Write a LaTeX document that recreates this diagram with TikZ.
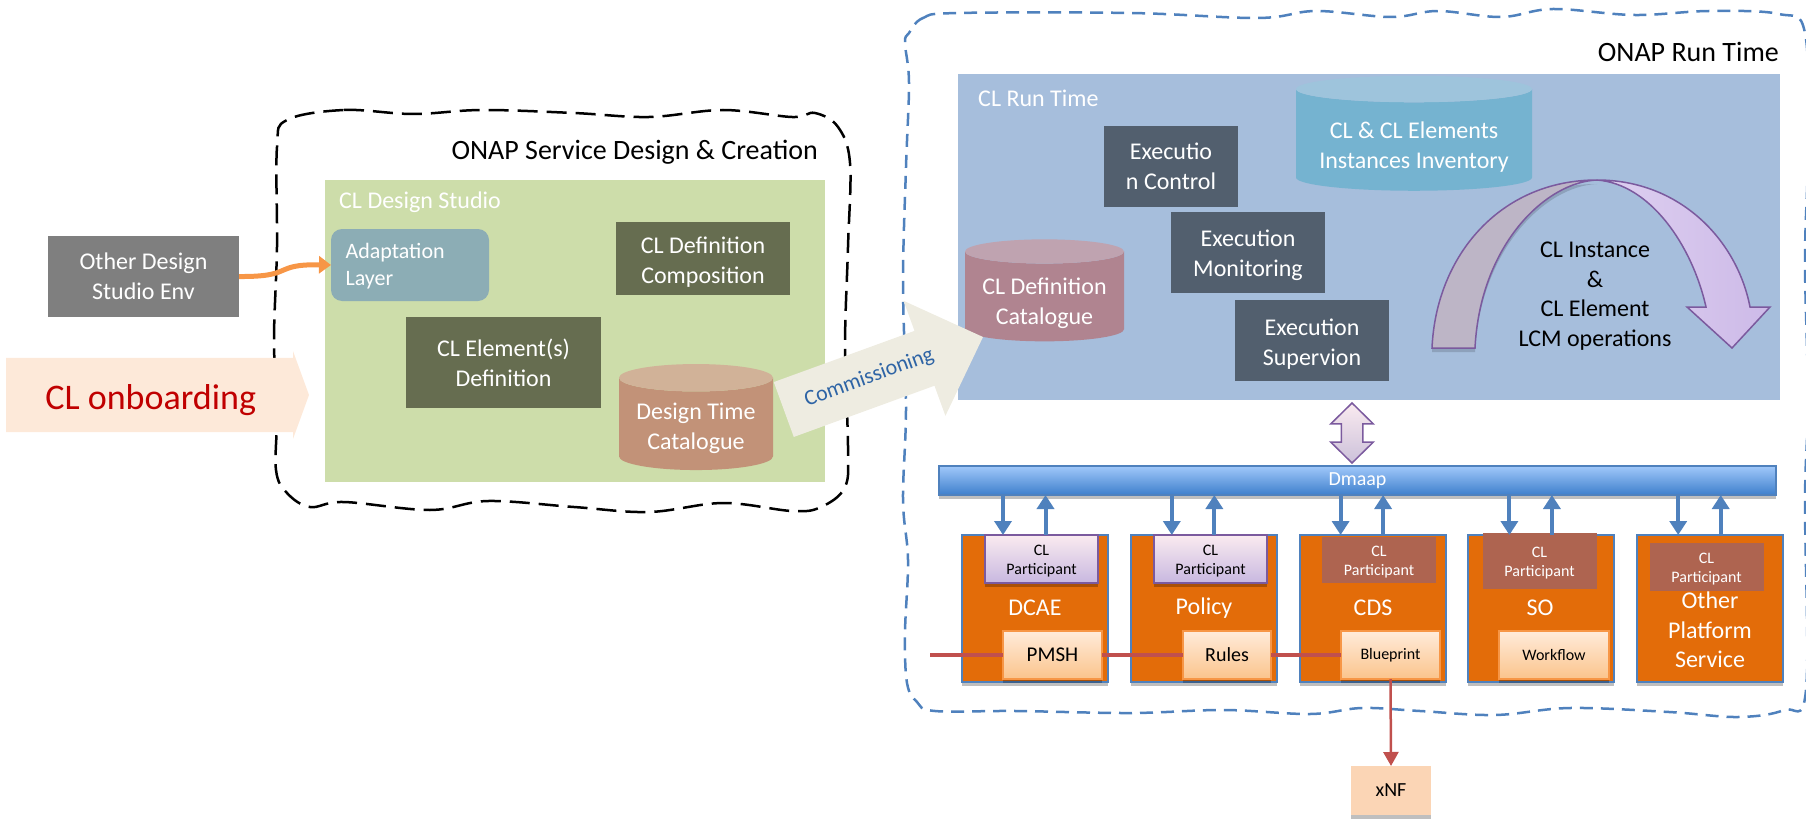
\documentclass[tikz,border=0pt]{standalone}
\usepackage{xcolor}
\usepackage{fontspec}
\setmainfont{Carlito}
\usepackage{tikz}
\usetikzlibrary{shapes.geometric, shapes.arrows, arrows.meta, positioning, shadows}

\definecolor{mossgreen}{HTML}{666D50}
\definecolor{slateblue}{HTML}{525F6E}
\definecolor{linkblue}{HTML}{4F81BD}
\definecolor{purpleedge}{HTML}{7B5A9E}
\definecolor{linkred}{HTML}{C0504D}

\begin{document}
\begin{tikzpicture}[
      x=1pt, y=-1pt,
      softshadow/.style={
        drop shadow={shadow xshift=0pt, shadow yshift=-4pt, opacity=0.25, fill=black}
      },
      panel/.style={
        rectangle,
        outer sep=0pt
      },
      panellabel/.style={
        anchor=west,
        text=white,
        inner sep=0pt,
        font=\fontsize{24}{30}\selectfont
      },
      zonelabel/.style={
        anchor=east,
        inner sep=0pt,
        font=\fontsize{28}{34}\selectfont
      },
      darkbox/.style={
        rectangle,
        align=center,
        text=white,
        outer sep=0pt,
        font=\fontsize{24}{30}\selectfont
      },
      tank/.style={
        cylinder,
        shape border rotate=90,
        cylinder uses custom fill,
        align=center,
        text=white,
        outer sep=0pt,
        inner sep=0pt,
        text height=60pt,
        font=\fontsize{24}{30}\selectfont
      },
      platform/.style={
        rectangle,
        fill={rgb,255:red,227;green,108;blue,9},
        draw=linkblue,
        line width=2pt,
        minimum width=146pt,
        minimum height=147pt,
        outer sep=0pt,
        softshadow
      },
      platformname/.style={
        align=center,
        text=white,
        inner sep=0pt,
        font=\fontsize{24}{29.5}\selectfont
      },
      liveparticipant/.style={
        rectangle,
        align=center,
        top color=purple!8!white,
        bottom color={rgb,255:red,200;green,184;blue,224},
        draw=purpleedge,
        line width=2.5pt,
        minimum width=113pt,
        minimum height=48pt,
        inner sep=0pt,
        text height=33pt,
        softshadow,
        font=\fontsize{16}{19}\selectfont
      },
      flatparticipant/.style={
        rectangle,
        align=center,
        text=white,
        fill={rgb,255:red,174;green,100;blue,80},
        minimum width=114pt,
        inner sep=0pt,
        text height=33pt,
        font=\fontsize{16}{19}\selectfont
      },
      plugin/.style={
        rectangle,
        top color={rgb,255:red,255;green,235;blue,218},
        bottom color={rgb,255:red,251;green,196;blue,140},
        draw={rgb,255:red,247;green,150;blue,70},
        line width=2pt,
        minimum height=48pt,
        outer sep=0pt,
        softshadow
      },
      buslink/.style={
        line width=4pt,
        draw=linkblue,
        -{Triangle[length=14pt,width=17pt]}
      },
      redlink/.style={
        line width=4pt,
        draw=linkred
      },
      node distance=22.8pt
    ]
    \useasboundingbox (0,0) rectangle (1806,821);

    % Zone outlines
    \draw [black, line width=2.5pt, dash pattern=on 20pt off 9pt] plot [smooth cycle, tension=0.6] coordinates {
      (287,120) (344,110) (413,114) (482,110) (574,113) (649,117) (723,110) (792,117) (815,113) (838,127)
      (850,163) (848,247) (845,347) (848,447) (845,487) (821,507) (792,511) (723,503) (649,512) (574,507)
      (488,501) (430,510) (344,502) (310,507) (287,493) (276,470) (277,413) (274,340) (277,247) (277,147)};
    \draw [linkblue, line width=2.5pt, dash pattern=on 13pt off 8pt] plot [smooth cycle, tension=0.6] coordinates {
      (909,33) (923,18) (958,13) (1131,13) (1258,18) (1316,11) (1391,17) (1438,11) (1501,17) (1553,9)
      (1634,15) (1709,11) (1779,14) (1805,33) (1808,150) (1805,260) (1808,400) (1805,500) (1806,690) (1784,710)
      (1738,717) (1669,712) (1570,708) (1495,715) (1420,711) (1362,708) (1310,714) (1224,710) (1131,713) (1016,711)
      (935,711) (917,702) (907,683) (905,633) (908,560) (903,500) (906,407) (903,283) (906,167) (909,83) (905,43)};
    \node (designZone) [zonelabel] at (818,152) {ONAP Service Design \& Creation};
    \node (runZone) [zonelabel] at (1779,52) {ONAP Run Time};

    % Design Nodes
    \node (designPanel) [panel, fill={rgb,255:red,205;green,221;blue,170}, minimum width=500pt, minimum height=302pt] at (575,331) {};
    \node (designLabel) [panellabel] at (339,202) {CL Design Studio};
    \node (otherStudio) [darkbox, fill={rgb,255:red,127;green,127;blue,127}, minimum width=191pt, minimum height=81pt] at (143.5,276.5) {Other Design \\ Studio Env};
    \node (adaptLayer) [darkbox, rounded corners=11pt, fill={rgb,255:red,140;green,173;blue,181}, minimum width=158pt, minimum height=72pt, text height=45pt, font=\fontsize{22}{27}\selectfont, align=left] at (410,265) {Adaptation~~~~~~ \\ Layer};
    \node (compositionBox) [darkbox, fill=mossgreen, minimum width=174pt, minimum height=73pt, text height=53pt] at (703,258.5) {CL Definition \\ Composition};
    \node (elementBox) [darkbox, fill=mossgreen, minimum width=195pt, minimum height=91pt] at (503.5,362.5) {CL Element(s) \\ Definition};
    \node (designTank) [tank, cylinder body fill={rgb,255:red,194;green,146;blue,120}, cylinder end fill={rgb,255:red,209;green,178;blue,152}, aspect=0.23, minimum width=154pt, minimum height=106pt, text height=55pt] at (696,424) {Design Time \\ Catalogue};

    % Run Time Nodes
    \node (runPanel) [panel, fill={rgb,255:red,166;green,190;blue,220}, minimum width=822pt, minimum height=326pt] at (1369,237) {};
    \node (runLabel) [panellabel] at (978,98) {CL Run Time};
    \node (inventoryTank) [tank, cylinder body fill={rgb,255:red,117;green,179;blue,208}, cylinder end fill={rgb,255:red,158;green,196;blue,220}, aspect=0.14, minimum width=236pt, minimum height=115pt] at (1414,140) {CL \& CL Elements \\ Instances Inventory};
    \node (controlBox) [darkbox, fill=slateblue, minimum width=134pt, minimum height=81pt] at (1171,166.5) {Executio \\ n Control};
    \node (monitorBox) [darkbox, fill=slateblue, minimum width=154pt, minimum height=81pt, text height=53pt] at (1248,252.5) {Execution \\ Monitoring};
    \node (superviseBox) [darkbox, fill=slateblue, minimum width=154pt, minimum height=81pt, text height=53pt] at (1312,340.5) {Execution \\ Supervion};
    \node (definitionTank) [tank, cylinder body fill={rgb,255:red,176;green,132;blue,144}, cylinder end fill={rgb,255:red,191;green,163;blue,176}, aspect=0.195, minimum width=159pt, minimum height=102pt] at (1044.5,296.5) {CL Definition \\ Catalogue};

    % LCM curved arrow
    \fill [black, opacity=0.15] (1432,352) .. controls (1436,260) and (1500,184) .. (1597,184) .. controls (1545,186) and (1480,250) .. (1475,352) -- cycle;
    \draw [purpleedge, line width=1.5pt, fill={rgb,255:red,189;green,181;blue,198}] (1432,348) .. controls (1436,256) and (1500,180) .. (1597,180)
      .. controls (1545,182) and (1480,246) .. (1475,348) -- cycle;
    \draw [purpleedge, line width=1.5pt, left color={rgb,255:red,222;green,208;blue,240}, right color={rgb,255:red,205;green,186;blue,232}] (1597,180) .. controls (1680,180) and (1737,240) .. (1750,307)
      -- (1770,307) -- (1732,348) -- (1687,307) -- (1706,307) .. controls (1692,245) and (1650,184) .. (1597,180) -- cycle;
    \node (lcmLabel) [platformname, text=black] at (1595,296) {CL Instance \\ \& \\ CL Element \\ LCM operations};

    % Onboarding and Commissioning arrows
    \node (onboardArrow) [single arrow, single arrow head extend=6.5pt, single arrow tip angle=140, single arrow head indent=0pt, fill={rgb,255:red,253;green,233;blue,217}, minimum width=87pt, minimum height=303pt, inner xsep=0pt, inner ysep=15pt, text height=36pt, text depth=8pt, outer sep=0pt, text={rgb,255:red,192;green,0;blue,0}, font=\fontsize{36}{43}\selectfont, anchor=tip] at (309,395) {CL onboarding~};
    \node (commissionArrow) [single arrow, single arrow head extend=32pt, single arrow tip angle=89, fill={rgb,255:red,238;green,236;blue,225}, minimum width=122pt, minimum height=212pt, inner xsep=0pt, inner ysep=19pt, text height=15pt, text depth=5pt, outer sep=0pt, rotate=20, text={rgb,255:red,46;green,100;blue,165}, font=\fontsize{22}{26}\selectfont, anchor=tip] at (983,337) {Commissioning};

    % Bus Nodes
    \node (busLink) [double arrow, double arrow head extend=10.5pt, double arrow tip angle=91, rotate=90, top color=purple!8!white, bottom color={rgb,255:red,204;green,193;blue,218}, draw=purpleedge, line width=1.5pt, minimum width=41pt, minimum height=60pt, inner xsep=0pt, inner ysep=10pt] at (1352,433) {};
    \node (dmaapBus) [rectangle, top color={rgb,255:red,160;green,200;blue,250}, bottom color={rgb,255:red,62;green,127;blue,204}, draw=linkblue, line width=2pt, minimum width=837pt, minimum height=29pt, outer sep=0pt, text=white, softshadow, font=\fontsize{20}{24}\selectfont] at (1357.5,480.5) {Dmaap};

    % Platform Nodes
    \node (dcaeBox) [platform] at (1035,608.5) {};
    \node (policyBox) [platform, right=of dcaeBox] {};
    \node (cdsBox) [platform, right=of policyBox] {};
    \node (soBox) [platform, right=of cdsBox] {};
    \node (otherBox) [platform, right=of soBox] {};

    \node (dcaeName) [platformname] at (1035,608) {DCAE};
    \node (policyName) [platformname] at (1204,608) {Policy};
    \node (cdsName) [platformname] at (1373,608) {CDS};
    \node (soName) [platformname] at (1540,608) {SO};
    \node (otherName) [platformname] at (1710,630) {Other \\ Platform \\ Service};

    % Participant Nodes
    \node (dcaePart) [liveparticipant] at (1041.5,559) {CL \\ Participant};
    \node (policyPart) [liveparticipant] at (1210.5,559) {CL \\ Participant};
    \node (cdsPart) [flatparticipant, minimum height=46pt] at (1379,560) {CL \\ Participant};
    \node (soPart) [flatparticipant, minimum height=56pt] at (1539.5,561) {CL \\ Participant};
    \node (otherPart) [flatparticipant, minimum height=48pt] at (1706.5,567) {CL \\ Participant};

    % Inner Nodes
    \node (pmshBox) [plugin, minimum width=99pt, font=\fontsize{21}{25}\selectfont] at (1052.5,655) {PMSH};
    \node (rulesBox) [plugin, minimum width=88pt, font=\fontsize{20}{24}\selectfont] at (1227,655) {Rules};
    \node (blueprintBox) [plugin, minimum width=99pt, font=\fontsize{16}{19}\selectfont] at (1390.5,655) {Blueprint};
    \node (workflowBox) [plugin, minimum width=110pt, font=\fontsize{16}{19}\selectfont] at (1554,655) {Workflow};
    \node (xnfBox) [rectangle, fill={rgb,255:red,251;green,213;blue,181}, minimum width=80pt, minimum height=49pt, outer sep=0pt, softshadow, font=\fontsize{20}{24}\selectfont] at (1391,790.5) {xNF};
    \coordinate (vesStart) at (930,655);

    % Arrows for Design
    \draw [line width=5pt, draw={rgb,255:red,247;green,150;blue,70}, -{Triangle[length=12pt,width=17pt]}] (otherStudio.east) .. controls (295,277) and (272,264) .. (adaptLayer.west);

    % Arrows for Bus
    \draw [buslink] ([xshift=-32pt]dcaeBox.north |- dmaapBus.south) -- ([xshift=-32pt]dcaeBox.north);
    \draw [buslink] ([xshift=10.5pt]dcaeBox.north) -- ([xshift=10.5pt]dcaeBox.north |- dmaapBus.south);
    \draw [buslink] ([xshift=-32pt]policyBox.north |- dmaapBus.south) -- ([xshift=-32pt]policyBox.north);
    \draw [buslink] ([xshift=10.5pt]policyBox.north) -- ([xshift=10.5pt]policyBox.north |- dmaapBus.south);
    \draw [buslink] ([xshift=-32pt]cdsBox.north |- dmaapBus.south) -- ([xshift=-32pt]cdsBox.north);
    \draw [buslink] ([xshift=10.5pt]cdsBox.north) -- ([xshift=10.5pt]cdsBox.north |- dmaapBus.south);
    \draw [buslink] ([xshift=-32pt]soBox.north |- dmaapBus.south) -- ([xshift=-32pt]soBox.north);
    \draw [buslink] ([xshift=10.5pt]soBox.north) -- ([xshift=10.5pt]soBox.north |- dmaapBus.south);
    \draw [buslink] ([xshift=-32pt]otherBox.north |- dmaapBus.south) -- ([xshift=-32pt]otherBox.north);
    \draw [buslink] ([xshift=10.5pt]otherBox.north) -- ([xshift=10.5pt]otherBox.north |- dmaapBus.south);

    % Arrows for xNF path
    \draw [redlink] (vesStart) -- (pmshBox.west);
    \draw [redlink] (pmshBox.east) -- (rulesBox.west);
    \draw [redlink] (rulesBox.east) -- (blueprintBox.west);
    \draw [line width=2.5pt, draw=linkred, -{Triangle[length=14pt,width=15pt]}] (blueprintBox.south) -- (xnfBox.north);

    \end{tikzpicture}
\end{document}
